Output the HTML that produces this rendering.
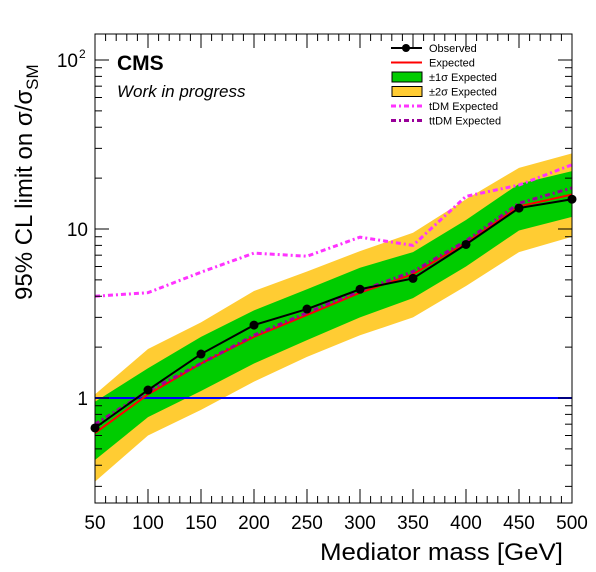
<!DOCTYPE html>
<html><head><meta charset="utf-8"><style>
body{margin:0;background:#fff}
svg{display:block;font-family:"Liberation Sans",sans-serif}
</style></head><body>
<svg id="chart" width="596" height="572" viewBox="0 0 596 572" xmlns="http://www.w3.org/2000/svg">
<g id="bands"></g>
<g id="lines"></g>
<rect x="95" y="34" width="477" height="469" fill="none" stroke="#000" stroke-width="1"/>
<g id="axes"></g>
<text x="117" y="70" font-size="21" font-weight="bold">CMS</text>
<text x="117" y="97" font-size="17" font-style="italic">Work in progress</text>
<text x="563" y="560" font-size="24" text-anchor="end" textLength="243" lengthAdjust="spacingAndGlyphs">Mediator mass [GeV]</text>
<text transform="translate(32,300) rotate(-90)" font-size="24">95% CL limit on  σ/σ<tspan font-size="17" dy="6">SM</tspan></text>
<g id="legend"></g>
</svg>
<script>
const masses=[50,100,150,200,250,300,350,400,450,500];
const observed=[0.665,1.115,1.82,2.7,3.36,4.4,5.1,8.1,13.3,15];
const expected=[0.62,1.05,1.6,2.3,3.1,4.2,5.4,8.3,13.6,16];
const sig1Low=[0.43,0.77,1.1,1.6,2.2,3.0,3.9,6.0,9.8,11.8];
const sig1High=[0.95,1.5,2.3,3.3,4.4,5.9,7.3,11.3,18.5,22];
const sig2Low=[0.32,0.6,0.85,1.25,1.75,2.35,3.0,4.6,7.3,9];
const sig2High=[1.05,1.95,2.8,4.3,5.6,7.4,9.5,15,23,28];
const tdm=[4.0,4.2,5.55,7.2,6.9,8.95,8.0,15.6,18.2,24];
const ttdm=[0.7,1.1,1.6,2.35,3.2,4.3,5.6,8.5,14.2,17.5];
const xTicks=[50,100,150,200,250,300,350,400,450,500];
const NS="http://www.w3.org/2000/svg";
const X0=95,X1=572,Y0=503,Y1=34;
const xs=m=>X0+(m-50)/(450)*(X1-X0);
const ys=v=>398-169*Math.log10(v);
function mk(t,a,p){const e=document.createElementNS(NS,t);for(const k in a)e.setAttribute(k,a[k]);(p||document.getElementById('chart')).appendChild(e);return e;}
const bands=document.getElementById('bands'),lines=document.getElementById('lines'),axes=document.getElementById('axes'),leg=document.getElementById('legend');
function band(lo,hi,col,name){
  let d=masses.map((m,i)=>(i?'L':'M')+xs(m)+','+ys(hi[i])).join('');
  for(let i=masses.length-1;i>=0;i--)d+='L'+xs(masses[i])+','+ys(lo[i]);
  const p=mk('path',{d:d+'Z',fill:col},bands);
  
  
}
band(sig2Low,sig2High,'#ffcc33','band-2sigma');
band(sig1Low,sig1High,'#00cc00','band-1sigma');
const one=mk('line',{x1:X0,x2:X1,y1:ys(1),y2:ys(1),stroke:'#0000ff','stroke-width':2},lines);


function line(vals,col,dash,name,w){
  const p=mk('polyline',{points:masses.map((m,i)=>xs(m)+','+ys(vals[i])).join(' '),fill:'none',stroke:col,'stroke-width':w||2,'stroke-dasharray':dash||'none'},lines);
  
  
}
line(tdm,'#ff33ff','5,3,2,3','tdm-expected-line',3);
line(expected,'#ff0000',null,'expected-line');
line(ttdm,'#990099','5,3,2,3','ttdm-expected-line',3);
line(observed,'#000000',null,'observed-line');
masses.forEach((m,i)=>{const c=mk('circle',{cx:xs(m),cy:ys(observed[i]),r:4.5,fill:'#000'},lines);

});
for(let m=50;m<=500;m+=10){const big=(m%50===0);const L=big?14:7;
mk('line',{x1:xs(m),x2:xs(m),y1:Y0,y2:Y0-L,stroke:'#000'},axes);
mk('line',{x1:xs(m),x2:xs(m),y1:Y1,y2:Y1+L,stroke:'#000'},axes);}
xTicks.forEach(m=>{const t=mk('text',{x:xs(m),y:529,'font-size':19,'text-anchor':'middle'},axes);t.textContent=m;

});
for(let e=-1;e<=2;e++)for(let k=1;k<10;k++){const v=k*Math.pow(10,e);const y=ys(v);if(y>Y0||y<Y1)continue;const L=k===1?14:7;
mk('line',{x1:X0,x2:X0+L,y1:y,y2:y,stroke:'#000'},axes);
mk('line',{x1:X1,x2:X1-L,y1:y,y2:y,stroke:'#000'},axes);}
[[1,'1'],[10,'10']].forEach(([v,s])=>{const t=mk('text',{x:88,y:ys(v)+7,'font-size':19,'text-anchor':'end'},axes);t.textContent=s;

});
const t2=mk('text',{x:78,y:ys(100)+7,'font-size':19,'text-anchor':'end'},axes);t2.textContent='10';


const t3=mk('text',{x:79,y:ys(100)-2,'font-size':12},axes);t3.textContent='2';
const entries=[['Observed','obs'],['Expected','exp'],['±1σ Expected','s1'],['±2σ Expected','s2'],['tDM Expected','tdm'],['ttDM Expected','ttdm']];
entries.forEach(([lab,k],i)=>{const y=48+i*14.5;
if(k==='obs'){mk('line',{x1:391,x2:422,y1:y,y2:y,stroke:'#000','stroke-width':2},leg);mk('circle',{cx:406,cy:y,r:4,fill:'#000'},leg);}
if(k==='exp')mk('line',{x1:391,x2:422,y1:y,y2:y,stroke:'#f00','stroke-width':2},leg);
if(k==='s1')mk('rect',{x:392,y:y-5,width:30,height:10,fill:'#00cc00',stroke:'#000'},leg);
if(k==='s2')mk('rect',{x:392,y:y-5,width:30,height:10,fill:'#ffcc33',stroke:'#000'},leg);
if(k==='tdm')mk('line',{x1:391,x2:422,y1:y,y2:y,stroke:'#ff33ff','stroke-width':3,'stroke-dasharray':'5,3,2,3'},leg);
if(k==='ttdm')mk('line',{x1:391,x2:422,y1:y,y2:y,stroke:'#990099','stroke-width':3,'stroke-dasharray':'5,3,2,3'},leg);
const t=mk('text',{x:429,y:y+4,'font-size':11},leg);t.textContent=lab;

});
</script>
</body></html>
